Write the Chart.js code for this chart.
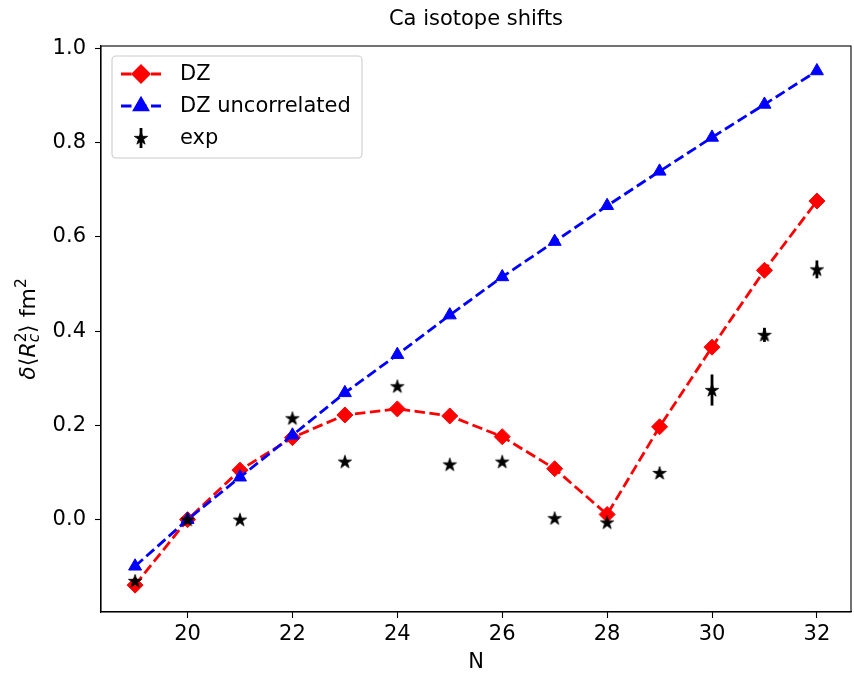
<!DOCTYPE html>
<html>
<head>
<meta charset="utf-8">
<script src="https://cdn.jsdelivr.net/npm/chart.js@4/dist/chart.umd.min.js"></script>
<style>
  html, body { margin: 0; padding: 0; background: #fff; overflow: hidden; }
  #wrap { width: 860px; height: 675px; }
</style>
</head>
<body>
<div id="wrap"><canvas id="chart" width="860" height="675"></canvas></div>
<script>
// data
const nValues = [19, 20, 21, 22, 23, 24, 25, 26, 27, 28, 29, 30, 31, 32];
const dz = [-0.139, 0.0, 0.105, 0.174, 0.222, 0.235, 0.220, 0.176, 0.108, 0.011, 0.197, 0.366, 0.529, 0.676];
const dzUncorrelated = [-0.099, 0.0, 0.090, 0.179, 0.269, 0.350, 0.434, 0.515, 0.590, 0.666, 0.739, 0.811, 0.881, 0.952];
const expShift = [-0.130, 0.0, 0.0, 0.215, 0.123, 0.283, 0.117, 0.123, 0.003, -0.006, 0.099, 0.275, 0.392, 0.531];
const expError = [0.004, 0.0, 0.002, 0.003, 0.003, 0.003, 0.003, 0.003, 0.003, 0.003, 0.005, 0.033, 0.015, 0.019];
const xTicks = [20, 22, 24, 26, 28, 30, 32];
const yTicks = [0.0, 0.2, 0.4, 0.6, 0.8, 1.0];

const FONT = 'DejaVu Sans';
const FS = 21;
Chart.defaults.font.family = FONT;
Chart.defaults.font.size = FS;
Chart.defaults.color = '#000';

const LW = 2.8;
const DASH = [10.5, 4.5];

function starImage(r) {
  const c = document.createElement('canvas');
  const s = Math.ceil(r * 2 + 2);
  c.width = c.height = s;
  const g = c.getContext('2d');
  g.beginPath();
  for (let i = 0; i < 10; i++) {
    const rr = i % 2 ? r * 0.381966 : r;
    const a = -Math.PI / 2 + i * Math.PI / 5;
    g.lineTo(s / 2 + rr * Math.cos(a), s / 2 + rr * Math.sin(a) + 0.5);
  }
  g.closePath();
  g.fillStyle = '#000';
  g.fill();
  g.strokeStyle = '#000';
  g.lineWidth = 0.8;
  g.stroke();
  return c;
}
const star = starImage(7);

const pts = arr => nValues.map((n, i) => ({ x: n, y: arr[i] }));

// error bars for the exp series, drawn through the scales
const errorBars = {
  id: 'errorBars',
  afterDatasetsDraw(chart) {
    const { ctx, chartArea: a, scales: { x, y } } = chart;
    ctx.save();
    ctx.beginPath();
    ctx.rect(a.left, a.top, a.right - a.left, a.bottom - a.top);
    ctx.clip();
    ctx.strokeStyle = '#000';
    ctx.lineWidth = LW;
    nValues.forEach((n, i) => {
      if (!expError[i]) return;
      const px = x.getPixelForValue(n);
      ctx.beginPath();
      ctx.moveTo(px, y.getPixelForValue(expShift[i] - expError[i]));
      ctx.lineTo(px, y.getPixelForValue(expShift[i] + expError[i]));
      ctx.stroke();
    });
    ctx.restore();
  }
};

// title, box around the axes, y label with sub/superscripts, legend
const decorations = {
  id: 'decorations',
  afterDraw(chart) {
    const { ctx, chartArea: a } = chart;
    ctx.save();
    ctx.fillStyle = '#000';
    ctx.font = `21px ${FONT}`;
    ctx.textAlign = 'center';
    ctx.textBaseline = 'middle';
    ctx.fillText('Ca isotope shifts', (a.left + a.right) / 2, 20);

    ctx.strokeStyle = '#000';
    ctx.lineWidth = 1.1;
    ctx.strokeRect(a.left, a.top, a.right - a.left, a.bottom - a.top);

    // y axis label: δ⟨R_c^2⟩ fm^2
    const size = 22, small = 15.4;
    const pieces = [
      { t: 'δ', f: `italic ${size}px ${FONT}`, dy: 0 },
      { t: '⟨', f: `${size}px ${FONT}`, dy: 0 },
      { t: 'R', f: `italic ${size}px ${FONT}`, dy: 0 },
      { t: '2', f: `${small}px ${FONT}`, dy: -9.5, stack: true },
      { t: 'c', f: `italic ${small}px ${FONT}`, dy: 4 },
      { t: '⟩', f: `${size}px ${FONT}`, dy: 0, gap: 1 },
      { t: ' fm', f: `${size}px ${FONT}`, dy: 0 },
      { t: '2', f: `${small}px ${FONT}`, dy: -9.5 }
    ];
    let total = 0;
    const widths = pieces.map(p => { ctx.font = p.f; return ctx.measureText(p.t).width; });
    pieces.forEach((p, i) => { if (!p.stack) total += widths[i] + (p.gap || 0); });
    ctx.translate(35, (a.top + a.bottom) / 2);
    ctx.rotate(-Math.PI / 2);
    ctx.textBaseline = 'alphabetic';
    ctx.textAlign = 'left';
    let cx = -total / 2;
    pieces.forEach((p, i) => {
      ctx.font = p.f;
      cx += p.gap || 0;
      ctx.fillText(p.t, cx, p.dy);
      if (!p.stack) cx += widths[i];
    });
    ctx.restore();

    // legend
    ctx.save();
    const bx = 112, by = 56, bw = 250, bh = 102;
    ctx.beginPath();
    ctx.roundRect(bx, by, bw, bh, 4);
    ctx.fillStyle = 'rgba(255,255,255,0.8)';
    ctx.fill();
    ctx.strokeStyle = '#cccccc';
    ctx.lineWidth = 1.1;
    ctx.stroke();
    const rows = [74, 106, 138];
    chart.data.datasets.forEach((ds, i) => {
      const yy = rows[i];
      if (ds.showLine) {
        ctx.strokeStyle = ds.borderColor;
        ctx.lineWidth = LW;
        ctx.setLineDash(DASH);
        ctx.beginPath();
        ctx.moveTo(121, yy);
        ctx.lineTo(161, yy);
        ctx.stroke();
        ctx.setLineDash([]);
      } else {
        ctx.strokeStyle = '#000';
        ctx.lineWidth = LW;
        ctx.beginPath();
        ctx.moveTo(141, yy - 10);
        ctx.lineTo(141, yy + 10);
        ctx.stroke();
      }
      ctx.fillStyle = ds.backgroundColor;
      ctx.strokeStyle = ds.borderColor;
      Chart.helpers.drawPoint(ctx, { pointStyle: ds.pointStyle, radius: ds.pointRadius, borderWidth: ds.pointBorderWidth || 1, rotation: 0 }, 141, yy);
      ctx.fillStyle = '#000';
      ctx.font = `${FS}px ${FONT}`;
      ctx.textBaseline = 'middle';
      ctx.textAlign = 'left';
      ctx.fillText(ds.label, 180, yy + 1);
    });
    ctx.restore();
  }
};

new Chart(document.getElementById('chart').getContext('2d'), {
  type: 'scatter',
  data: {
    datasets: [
      {
        label: 'DZ',
        data: pts(dz),
        showLine: true,
        borderColor: '#ff0000',
        backgroundColor: '#ff0000',
        borderWidth: LW,
        borderDash: DASH,
        pointStyle: 'rectRot',
        pointRadius: 8,
        pointBorderWidth: 1,
        order: 3
      },
      {
        label: 'DZ uncorrelated',
        data: pts(dzUncorrelated),
        showLine: true,
        borderColor: '#0000ff',
        backgroundColor: '#0000ff',
        borderWidth: LW,
        borderDash: DASH,
        pointStyle: 'triangle',
        pointRadius: 7.5,
        pointBorderWidth: 1,
        order: 2
      },
      {
        label: 'exp',
        data: pts(expShift),
        showLine: false,
        borderColor: '#000000',
        backgroundColor: '#000000',
        pointStyle: star,
        pointRadius: 7,
        order: 1
      }
    ]
  },
  options: {
    responsive: false,
    animation: false,
    layout: { padding: { left: 0, right: 1.5, top: 46, bottom: 0 } },
    plugins: {
      legend: { display: false },
      tooltip: { enabled: false },
      title: { display: false }
    },
    scales: {
      x: {
        type: 'linear',
        min: 18.35,
        max: 32.65,
        afterBuildTicks: s => { s.ticks = xTicks.map(v => ({ value: v })); },
        afterFit: s => { s.height = 63; },
        ticks: { autoSkip: false, maxRotation: 0, padding: 4, color: '#000', callback: v => String(v) },
        grid: { display: true, drawOnChartArea: false, drawTicks: true, tickLength: 6, color: '#000', tickWidth: 1.1 },
        border: { display: true, color: '#000', width: 1.1 },
        title: { display: true, text: 'N', color: '#000', font: { size: FS, lineHeight: 1.2 }, padding: { top: 0, bottom: 0 } }
      },
      y: {
        type: 'linear',
        min: -0.196,
        max: 1.005,
        afterBuildTicks: s => { s.ticks = yTicks.map(v => ({ value: v })); },
        afterFit: s => { s.width = 101; },
        ticks: { autoSkip: false, padding: 9, color: '#000', callback: v => v.toFixed(1) },
        grid: { display: true, drawOnChartArea: false, drawTicks: true, tickLength: 6, color: '#000', tickWidth: 1.1 },
        border: { display: true, color: '#000', width: 1.1 }
      }
    }
  },
  plugins: [errorBars, decorations]
});
</script>
</body>
</html>
